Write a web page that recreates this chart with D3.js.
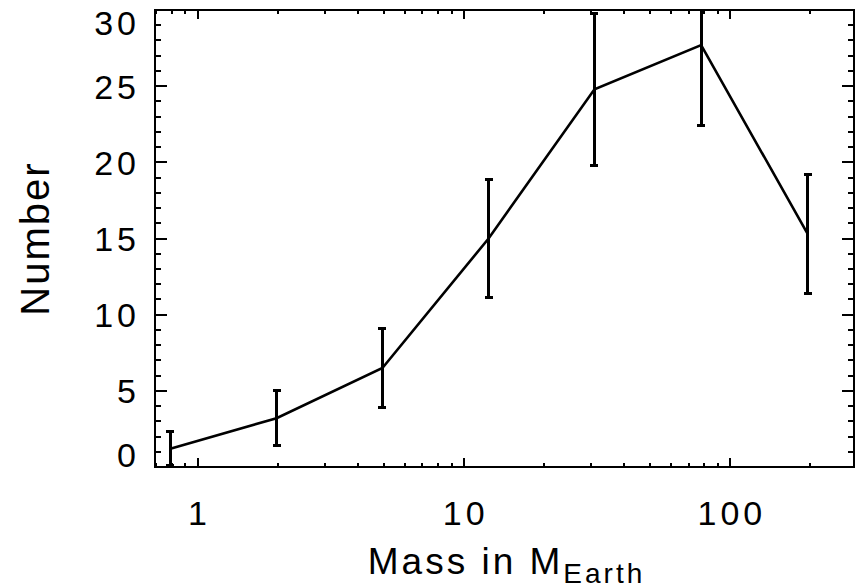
<!DOCTYPE html>
<html>
<head>
<meta charset="utf-8">
<script src="https://cdn.jsdelivr.net/npm/d3@7"></script>
<style>
  html, body { margin: 0; padding: 0; background: #fff; }
  svg { display: block; }
  text { font-family: "Liberation Sans", Arial, sans-serif; fill: #000; }
</style>
</head>
<body>
<svg id="chart" width="855" height="588"></svg>
<script>
// ---- data ----
const massValues   = [0.79, 1.98, 4.95, 12.4, 31, 78, 196];
const numberValues = [1.2, 3.2, 6.5, 15.0, 24.8, 27.7, 15.3];
const errorValues  = [1.1, 1.8, 2.6, 3.9, 5.0, 5.3, 3.9];
const xTickValues  = [1, 10, 100];
const xTickLabels  = ["1", "10", "100"];
const yTickValues  = [0, 5, 10, 15, 20, 25, 30];
const yTickLabels  = ["0", "5", "10", "15", "20", "25", "30"];
const xTitle = "Mass in M";
const xTitleSub = "Earth";
const yTitle = "Number";

// ---- layout ----
const pLeft = 155, pRight = 854, pTop = 10, pBottom = 467;

const svg = d3.select("#chart");

const x = d3.scaleLog().domain([0.692, 292.7]).range([pLeft, pRight]);
const y = d3.scaleLinear().domain([0, 30]).range([pBottom, pTop]);

svg.append("defs").append("clipPath").attr("id", "plotclip")
  .append("rect").attr("x", pLeft).attr("y", pTop)
  .attr("width", pRight - pLeft).attr("height", pBottom - pTop);

// minor ticks
const [xd0, xd1] = x.domain();
const xMinor = [];
for (let d = Math.pow(10, Math.floor(Math.log10(xd0))); d <= xd1; d *= 10) {
  for (let k = 1; k <= 9; k++) {
    const v = k * d;
    if (v >= xd0 && v <= xd1 && !xTickValues.some(t => Math.abs(t - v) < 1e-9)) xMinor.push(v);
  }
}
const yMinor = d3.range(0, 31, 1).filter(v => !yTickValues.includes(v));

const g = svg.append("g").attr("shape-rendering", "crispEdges")
  .attr("stroke", "#000").attr("stroke-width", 2).attr("fill", "none");

// frame
g.append("rect").attr("x", pLeft).attr("y", pTop)
  .attr("width", pRight - pLeft).attr("height", pBottom - pTop);

const majX = 9, minX = 4, majY = 12, minY = 6;
xTickValues.forEach(v => {
  g.append("line").attr("x1", x(v)).attr("x2", x(v)).attr("y1", pBottom).attr("y2", pBottom - majX);
  g.append("line").attr("x1", x(v)).attr("x2", x(v)).attr("y1", pTop).attr("y2", pTop + majX);
});
xMinor.forEach(v => {
  g.append("line").attr("x1", x(v)).attr("x2", x(v)).attr("y1", pBottom).attr("y2", pBottom - minX);
  g.append("line").attr("x1", x(v)).attr("x2", x(v)).attr("y1", pTop).attr("y2", pTop + minX);
});
yTickValues.forEach(v => {
  g.append("line").attr("y1", y(v)).attr("y2", y(v)).attr("x1", pLeft).attr("x2", pLeft + majY);
  g.append("line").attr("y1", y(v)).attr("y2", y(v)).attr("x1", pRight).attr("x2", pRight - majY);
});
yMinor.forEach(v => {
  g.append("line").attr("y1", y(v)).attr("y2", y(v)).attr("x1", pLeft).attr("x2", pLeft + minY);
  g.append("line").attr("y1", y(v)).attr("y2", y(v)).attr("x1", pRight).attr("x2", pRight - minY);
});

// tick labels
const tickFont = 34, tickLS = 4;
xTickValues.forEach((v, i) => {
  svg.append("text").attr("x", x(v) + tickLS / 2).attr("y", 525)
    .attr("text-anchor", "middle").attr("font-size", tickFont)
    .attr("letter-spacing", tickLS).text(xTickLabels[i]);
});
const halfH = 12.5;
yTickValues.forEach((v, i) => {
  const cy = Math.max(pTop + halfH, Math.min(pBottom - halfH, y(v)));
  svg.append("text").attr("x", 136 + tickLS).attr("y", cy + halfH)
    .attr("text-anchor", "end").attr("font-size", tickFont)
    .attr("letter-spacing", tickLS).text(yTickLabels[i]);
});

// titles
const xt = svg.append("text").attr("x", (pLeft + pRight) / 2 + 2).attr("y", 574)
  .attr("text-anchor", "middle").attr("font-size", 37).attr("letter-spacing", 3);
xt.append("tspan").text(xTitle);
xt.append("tspan").attr("font-size", 28).attr("dy", 9).text(xTitleSub);

svg.append("text").attr("transform", `translate(49,${(pTop + pBottom) / 2}) rotate(-90)`)
  .attr("text-anchor", "middle").attr("font-size", 40).attr("letter-spacing", 2)
  .text(yTitle);

// data
const pts = massValues.map((m, i) => ({ m, n: numberValues[i], e: errorValues[i] }));
const plot = svg.append("g").attr("clip-path", "url(#plotclip)")
  .attr("stroke", "#000").attr("fill", "none");

plot.append("path").datum(pts)
  .attr("stroke-width", 2.6)
  .attr("d", d3.line().x(d => x(d.m)).y(d => y(d.n)));

const eb = plot.append("g").attr("shape-rendering", "crispEdges").attr("stroke-width", 3);
pts.forEach(d => {
  const cx = x(d.m);
  eb.append("line").attr("x1", cx).attr("x2", cx).attr("y1", y(d.n - d.e)).attr("y2", y(d.n + d.e));
  eb.append("line").attr("x1", cx - 4).attr("x2", cx + 4).attr("y1", y(d.n - d.e)).attr("y2", y(d.n - d.e));
  eb.append("line").attr("x1", cx - 4).attr("x2", cx + 4).attr("y1", y(d.n + d.e)).attr("y2", y(d.n + d.e));
});
</script>
</body>
</html>
